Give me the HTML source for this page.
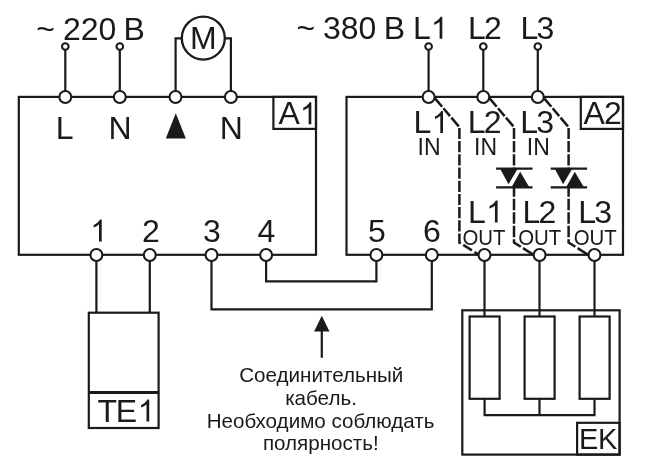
<!DOCTYPE html>
<html><head><meta charset="utf-8">
<style>
html,body{margin:0;padding:0;background:#fff;}
body{width:650px;height:470px;overflow:hidden;}
svg{display:block;will-change:transform;opacity:0.999;}
text{font-family:"Liberation Sans",sans-serif;fill:#1a1a1a;}
.t30{font-size:32px;}
.t28{font-size:29px;}
.t20{font-size:23px;}
.t21{font-size:22.3px;}
.t19{font-size:20.6px;}
.ld{letter-spacing:-1.7px;}
.ln{stroke:#1a1a1a;stroke-width:2.2;fill:none;stroke-linecap:butt;stroke-linejoin:miter;}
.tm{stroke:#1a1a1a;stroke-width:2.1;fill:#fff;}
.ds{stroke:#1a1a1a;stroke-width:2;fill:none;stroke-dasharray:10.5 2.5;}
.bk{fill:#1a1a1a;stroke:none;}
path[stroke-dasharray]{stroke-width:2.5;}
</style></head><body>
<svg width="650" height="470" viewBox="0 0 650 470">
<rect width="650" height="470" fill="#fff"/>
<defs><path id="one" class="bk" transform="scale(0.014946 -0.014946)" d="M763 0L583 0L583 1147Q518 1085 412.5 1023Q307 961 223 930L223 1104Q374 1175 487 1276Q600 1377 647 1472L763 1472Z"/></defs>

<!-- A1 box -->
<rect class="ln" x="18.8" y="96.9" width="297.2" height="157.9"/>
<rect class="ln" x="273.4" y="96.9" width="42.6" height="32"/>
<!-- A2 box -->
<rect class="ln" x="346.5" y="96.9" width="276.5" height="157.9"/>
<rect class="ln" x="580.8" y="96.9" width="42.2" height="32"/>

<!-- top wires A1 -->
<path class="ln" d="M65.3 46.5V97 M119.8 46.5V97"/>
<path class="ln" d="M175.6 97V38.3H182 M225 38.3H230.9V97"/>
<circle class="tm" cx="203.3" cy="38.05" r="21.5" style="stroke-width:2.3"/>
<!-- top wires A2 -->
<path class="ln" d="M428.6 46.5V97 M483.3 46.5V97 M537.8 46.5V97"/>

<!-- dashed -->
<path class="ln" stroke-dasharray="11 2 10.2 2 40" d="M435.0 98.4L458.8 126.4"/>
<path class="ln" stroke-dasharray="11.2 2 11.2 2 11.2 2 11.2 2 11.2 2 11.2 2 11.2 2 11.2 2 10.6 2.9 10.3 3 40" d="M459.4 127.9V242.5L478.6 254.6"/>
<path class="ln" stroke-dasharray="11 2 10.2 2 40" d="M489.6 98.4L513.4 126.4"/>
<path class="ln" stroke-dasharray="11.2 2" d="M514.0 127.9V168"/>
<path class="ln" stroke-dasharray="9.5 2 11.4 2.1 11.4 2.1 11.4 2.1 11.2 2.6 40" d="M514.0 187.3V242.5L533.2 254.6"/>
<path class="ln" d="M496.1 168.6H532.5 M496.1 187.3H532.5"/>
<path class="bk" d="M500.0 168.6H517.8L508.5 184.2Z"/>
<path class="bk" d="M511.5 187.3H529.3L520.2 171.8Z"/>
<path class="ln" stroke-dasharray="11 2 10.2 2 40" d="M544.2 98.4L568.0 126.4"/>
<path class="ln" stroke-dasharray="11.2 2" d="M568.6 127.9V168"/>
<path class="ln" stroke-dasharray="9.5 2 11.4 2.1 11.4 2.1 11.4 2.1 11.2 2.6 40" d="M568.6 187.3V242.5L587.8 254.6"/>
<path class="ln" d="M550.7 168.6H587.1 M550.7 187.3H587.1"/>
<path class="bk" d="M554.6 168.6H572.4L563.1 184.2Z"/>
<path class="bk" d="M566.1 187.3H583.9L574.8 171.8Z"/>

<!-- bottom wiring -->
<path class="ln" d="M96.4 255V313 M149.8 255V313"/>
<rect class="ln" x="88.8" y="312.7" width="69.8" height="115.3"/>
<path class="ln" style="stroke-width:2.9" d="M88.8 392.5H158.6"/>
<path class="ln" d="M266.1 255V281.4H376.4V255"/>
<path class="ln" d="M211.5 255V309.4H431.8V255"/>
<path class="ln" d="M321.8 357.8V330"/>
<path class="bk" d="M321.8 315.8L329.5 331.6H314.1Z"/>

<!-- EK -->
<rect class="ln" x="462.3" y="310.3" width="157.3" height="144.3"/>
<rect class="ln" x="577.1" y="422.8" width="42.5" height="31.8"/>
<path class="ln" d="M484.5 255V316.5 M539.5 255V316.5 M594.5 255V316.5"/>
<rect class="ln" x="469.6" y="316.5" width="30" height="82.3"/>
<rect class="ln" x="524.6" y="316.5" width="30" height="82.3"/>
<rect class="ln" x="579.6" y="316.5" width="30" height="82.3"/>
<path class="ln" d="M484.6 398.8V415.2H594.5V398.8 M539.5 398.8V415.2"/>

<!-- terminals -->
<g class="tm">
<circle cx="65.3" cy="46.5" r="3.3"/><circle cx="119.8" cy="46.5" r="3.3"/>
<circle cx="428.6" cy="46.5" r="3.3"/><circle cx="483.3" cy="46.5" r="3.3"/><circle cx="537.8" cy="46.5" r="3.3"/>
<circle cx="65.3" cy="97" r="5.95"/><circle cx="119.8" cy="97" r="5.95"/><circle cx="175.5" cy="97" r="5.95"/><circle cx="230.9" cy="97" r="5.95"/>
<circle cx="428.6" cy="97" r="5.95"/><circle cx="483.3" cy="97" r="5.95"/><circle cx="537.8" cy="97" r="5.95"/>
<circle cx="96.4" cy="255" r="5.95"/><circle cx="149.8" cy="255" r="5.95"/><circle cx="211.5" cy="255" r="5.95"/><circle cx="266.1" cy="255" r="5.95"/>
<circle cx="376.4" cy="255" r="5.95"/><circle cx="431.8" cy="255" r="5.95"/>
<circle cx="484.5" cy="255" r="5.95"/><circle cx="539.6" cy="255" r="5.95"/><circle cx="594.5" cy="255" r="5.95"/>
</g>

<!-- arrow triangle in A1 -->
<path class="bk" d="M175.8 113.2L185.8 138.6H165.8Z"/>

<!-- texts -->
<text class="t30" x="36.3" y="39.6">~</text>
<text class="t30" x="63" y="39.6">220</text>
<text class="t30" x="123.5" y="39.6">В</text>
<text class="t30" x="190" y="48.5">M</text>
<text class="t30" x="296.5" y="38.8">~</text>
<text class="t30" x="323" y="38.8">380</text>
<text class="t30" x="383.8" y="38.8">В</text>
<text class="t30" x="413" y="38.8">L</text><use href="#one" x="430.9" y="38.8"/>
<text class="t30 ld" x="468" y="38.8">L2</text>
<text class="t30 ld" x="520.5" y="38.8">L3</text>
<text class="t30" x="55.7" y="138.5">L</text>
<text class="t30" x="108.5" y="138.5">N</text>
<text class="t30" x="219.8" y="138.5">N</text>
<text class="t30" x="278.6" y="124.3">A</text><use href="#one" x="299.9" y="124.3"/>
<text class="t30" style="letter-spacing:-1px" x="583.6" y="123.8">A2</text>
<use href="#one" x="90.3" y="241.5"/>
<text class="t30" x="142" y="241.5">2</text>
<text class="t30" x="203" y="241.5">3</text>
<text class="t30" x="257.5" y="241.5">4</text>
<text class="t30" x="368" y="241.5">5</text>
<text class="t30" x="423" y="241.5">6</text>
<text class="t30" x="413.4" y="133.4">L</text><use href="#one" x="431.6" y="133.0"/>
<text class="t30 ld" x="467.7" y="133.4">L2</text>
<text class="t30 ld" x="520.2" y="133.4">L3</text>
<text class="t20" x="417.5" y="154.8">IN</text>
<text class="t20" x="474" y="154.8">IN</text>
<text class="t20" x="526.8" y="154.8">IN</text>
<text class="t30" x="468" y="222.6">L</text><use href="#one" x="486.2" y="222.6"/>
<text class="t30 ld" x="522.4" y="222.6">L2</text>
<text class="t30 ld" x="578.2" y="222.6">L3</text>
<text class="t21" x="462.5" y="244.7" textLength="43" lengthAdjust="spacingAndGlyphs">OUT</text>
<text class="t21" x="518.2" y="244.7" textLength="43" lengthAdjust="spacingAndGlyphs">OUT</text>
<text class="t21" x="573.7" y="244.7" textLength="43" lengthAdjust="spacingAndGlyphs">OUT</text>
<text class="t30" x="97.5" y="421.5" style="letter-spacing:-1.3px">TE</text><use href="#one" x="137.8" y="421.5"/>
<text class="t28" x="579" y="448.8" style="letter-spacing:-0.3px">EK</text>
<text class="t19" x="321.3" y="381.8" text-anchor="middle">Соединительный</text>
<text class="t19" x="321" y="404.7" text-anchor="middle">кабель.</text>
<text class="t19" x="320.6" y="427.6" text-anchor="middle">Необходимо соблюдать</text>
<text class="t19" x="320.8" y="450.4" text-anchor="middle">полярность!</text>
</svg>
</body></html>
